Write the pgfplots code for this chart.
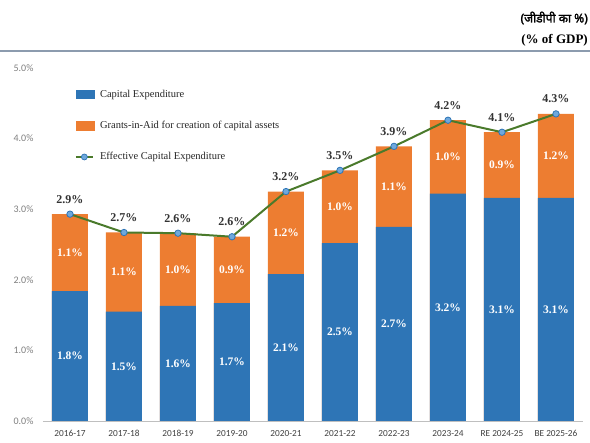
\documentclass[border=0pt]{standalone}
\usepackage{fontspec}
\setmainfont{Liberation Serif}
\newfontfamily\calibri{Carlito}
\newfontfamily\devfont[Script=Devanagari,FakeBold=2]{Noto Sans}
\usepackage{pgfplots}
\usepackage{pgfplotstable}
\pgfplotsset{compat=1.18}

\definecolor{capblue}{HTML}{2E75B6}
\definecolor{grantor}{HTML}{ED7D31}
\definecolor{effgreen}{HTML}{4A7A2B}
\definecolor{mkfill}{HTML}{6FA8DC}
\definecolor{ticktxt}{HTML}{7F7F7F}
\definecolor{hdrline}{HTML}{8C9BAE}

% x, capex, capex+grants, printed labels, label midpoints
\pgfplotstableread{
x blue total bl ol tl bm om
0 1.84 2.93 1.8 1.1 2.9 0.920 2.385
1 1.55 2.67 1.5 1.1 2.7 0.775 2.110
2 1.63 2.66 1.6 1.0 2.6 0.815 2.145
3 1.67 2.61 1.7 0.9 2.6 0.835 2.140
4 2.08 3.25 2.1 1.2 3.2 1.040 2.665
5 2.52 3.55 2.5 1.0 3.5 1.260 3.035
6 2.75 3.89 2.7 1.1 3.9 1.375 3.320
7 3.22 4.26 3.2 1.0 4.2 1.610 3.740
8 3.16 4.09 3.1 0.9 4.1 1.580 3.625
9 3.16 4.35 3.1 1.2 4.3 1.580 3.755
}\capex

\begin{document}
\begin{tikzpicture}
\path[use as bounding box] (-43pt,-22pt) rectangle (547pt,421pt);
\begin{axis}[
  at={(0,0)}, anchor=south west,
  scale only axis, width=540pt, height=353pt,
  xmin=-0.5, xmax=9.5, ymin=0, ymax=5,
  xtick={0,...,9},
  xticklabels={2016-17,2017-18,2018-19,2019-20,2020-21,2021-22,2022-23,2023-24,RE 2024-25,BE 2025-26},
  ytick={0,1,...,5},
  yticklabel={\pgfmathprintnumber[fixed,fixed zerofill,precision=1]{\tick}\%},
  /pgf/number format/assume math mode=true,
  xticklabel style={font=\calibri\fontsize{9.3}{10}\selectfont, text=black!75, yshift=-6pt},
  yticklabel style={font=\calibri\fontsize{10}{11}\selectfont, text=ticktxt, xshift=-6pt},
  separate axis lines,
  axis x line*=bottom, axis y line*=left,
  x axis line style={-, draw=black!25, line width=0.8pt},
  y axis line style={draw=none},
  tick style={draw=none},
  clip=false,
  legend style={draw=none, fill=none, at={(0.053,0.95)}, anchor=north west,
    font=\fontsize{10.5}{12}\selectfont, text=black!85, row sep=18.5pt,
    column sep=4pt, nodes={inner sep=2pt}},
  legend cell align=left,
]
\addlegendimage{legend image code/.code={\fill[capblue] (0pt,-4pt) rectangle (18pt,4pt);}}
\addlegendentry{Capital Expenditure}
\addlegendimage{legend image code/.code={\fill[grantor] (0pt,-4.5pt) rectangle (18pt,4.5pt);}}
\addlegendentry{Grants-in-Aid for creation of capital assets}
\addlegendimage{effgreen, line width=2pt, mark=*, mark size=3pt,
  mark options={fill=mkfill, draw=capblue, line width=0.7pt}}
\addlegendentry{Effective Capital Expenditure}

% orange: full height, blue drawn over it
\addplot[ybar, bar width=36pt, bar shift=0pt, fill=grantor, draw=none, forget plot]
  table[x=x, y=total] {\capex};
\addplot[ybar, bar width=36pt, bar shift=0pt, fill=capblue, draw=none, forget plot]
  table[x=x, y=blue] {\capex};

% segment labels
\addplot[draw=none, mark=none, forget plot,
  nodes near coords={\pgfplotspointmeta\%}, point meta=explicit symbolic,
  nodes near coords align={anchor=center},
  every node near coord/.append style={text=white, font=\bfseries\fontsize{11.5}{12}\selectfont}]
  table[x=x, y=bm, meta=bl] {\capex};
\addplot[draw=none, mark=none, forget plot,
  nodes near coords={\pgfplotspointmeta\%}, point meta=explicit symbolic,
  nodes near coords align={anchor=center},
  every node near coord/.append style={text=white, font=\bfseries\fontsize{11.5}{12}\selectfont}]
  table[x=x, y=om, meta=ol] {\capex};

% effective capital expenditure
\addplot[effgreen, line width=2pt, mark=*, mark size=3.2pt, forget plot,
  mark options={fill=mkfill, draw=capblue, line width=0.8pt},
  nodes near coords={\pgfplotspointmeta\%}, point meta=explicit symbolic,
  every node near coord/.append style={text=black!80, anchor=south, yshift=7pt,
    font=\bfseries\fontsize{12}{13}\selectfont}]
  table[x=x, y=total, meta=tl] {\capex};
\end{axis}

\draw[hdrline, line width=1.8pt] (-43pt,370pt) -- (547pt,370pt);
\node[anchor=east, inner sep=0pt, font=\devfont\fontsize{12}{13}\selectfont] at (545pt,403pt) {(जीडीपी का \%)};
\node[anchor=east, inner sep=0pt, font=\bfseries\fontsize{13}{14}\selectfont] at (545pt,381pt) {(\% of GDP)};
\end{tikzpicture}
\end{document}
